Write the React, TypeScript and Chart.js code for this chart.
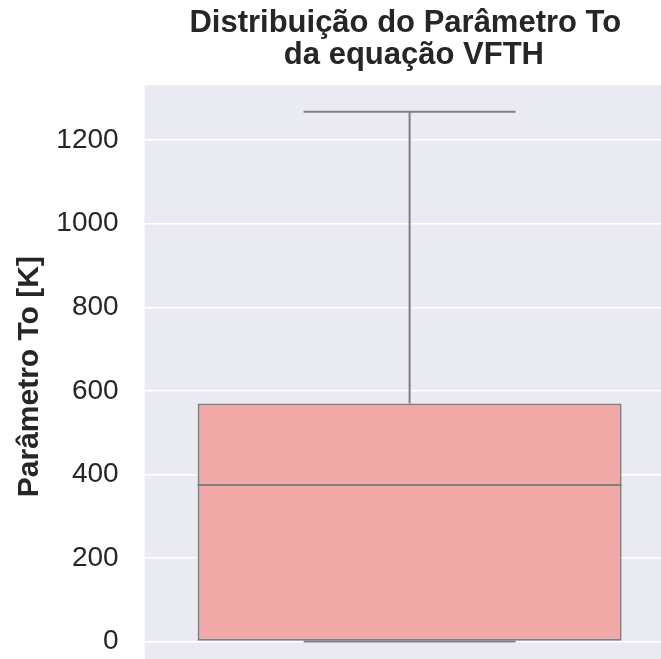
import React, { useEffect, useRef } from "react";
import { Chart, registerables } from "chart.js";

Chart.register(...registerables);

// Box summary for the To parameter of the VFTH equation
const categories = ["To"];
const minValues = [0];
const q1Values = [0];
const medianValues = [375];
const q3Values = [570];
const maxValues = [1268];
const yTickValues = [0, 200, 400, 600, 800, 1000, 1200];

const titleLines = ["Distribuição do Parâmetro To ", " da equação VFTH"];
const yTitle = "Parâmetro To [K]";

const FONT = "'Liberation Sans', Arial, Helvetica, sans-serif";
const TEXT = "#262626";
const PANEL = "#eaeaf2";
const LINE = "#7f7f7f";
const BOX_FILL = "#f1a9a8";

// Seaborn-like panel background behind the grid
const panelBackground = {
  id: "panelBackground",
  beforeDraw(chart: any) {
    const { ctx, chartArea } = chart;
    ctx.save();
    ctx.fillStyle = PANEL;
    ctx.fillRect(chartArea.left, chartArea.top, chartArea.right - chartArea.left, chartArea.bottom - chartArea.top);
    ctx.restore();
  },
};

// Median, whiskers and caps drawn on top of the box bars
const boxDetails = {
  id: "boxDetails",
  afterDatasetsDraw(chart: any) {
    const { ctx } = chart;
    const y = chart.scales.y;
    const meta = chart.getDatasetMeta(0);
    ctx.save();
    ctx.strokeStyle = LINE;
    ctx.lineWidth = 2;
    ctx.lineCap = "butt";
    meta.data.forEach((bar: any, i: number) => {
      const x = bar.x;
      const half = bar.width / 2;
      const capHalf = bar.width / 4;
      const yMin = y.getPixelForValue(minValues[i]);
      const yQ1 = y.getPixelForValue(q1Values[i]);
      const yMed = y.getPixelForValue(medianValues[i]);
      const yQ3 = y.getPixelForValue(q3Values[i]);
      const yMax = y.getPixelForValue(maxValues[i]);
      const seg = (x1: number, y1: number, x2: number, y2: number) => {
        ctx.beginPath();
        ctx.moveTo(x1, y1);
        ctx.lineTo(x2, y2);
        ctx.stroke();
      };
      seg(x, yQ3, x, yMax);
      seg(x - capHalf, yMax, x + capHalf, yMax);
      seg(x, yQ1, x, yMin);
      seg(x - capHalf, yMin, x + capHalf, yMin);
      seg(x - half, yMed, x + half, yMed);
    });
    ctx.restore();
  },
};

export default function App() {
  const canvasRef = useRef<HTMLCanvasElement | null>(null);

  useEffect(() => {
    const canvas = canvasRef.current;
    if (!canvas) return;
    const lo = Math.min(...minValues);
    const hi = Math.max(...maxValues);
    const pad = 0.05 * (hi - lo);

    const chart = new Chart(canvas, {
      type: "bar",
      data: {
        labels: categories,
        datasets: [
          {
            data: q1Values.map((q1, i) => [q1, q3Values[i]]) as any,
            backgroundColor: BOX_FILL,
            borderColor: LINE,
            borderWidth: 2,
            borderSkipped: false,
            barPercentage: 0.8,
            categoryPercentage: 1,
          },
        ],
      },
      options: {
        responsive: false,
        maintainAspectRatio: false,
        animation: false,
        devicePixelRatio: 1,
        layout: { padding: { left: 0, right: 1.4, top: 0, bottom: 1.9 } },
        plugins: {
          legend: { display: false },
          tooltip: { enabled: false },
          title: {
            display: true,
            fullSize: false,
            text: titleLines,
            color: TEXT,
            font: { family: FONT, size: 31, weight: "bold", lineHeight: 1.02 },
            padding: { top: 8, bottom: 14 },
          },
        },
        scales: {
          x: {
            display: false,
            grid: { display: false },
          },
          y: {
            min: lo - pad,
            max: hi + pad,
            border: { display: false },
            grid: { color: "#ffffff", lineWidth: 1.5, drawTicks: false },
            afterBuildTicks(scale: any) {
              scale.ticks = yTickValues.map((value) => ({ value }));
            },
            ticks: {
              padding: 26,
              color: TEXT,
              font: { family: FONT, size: 28 },
              callback: (value: any) => String(value),
            },
            title: {
              display: true,
              text: yTitle,
              color: TEXT,
              font: { family: FONT, size: 30, weight: "bold", lineHeight: 1.2 },
              padding: { top: 11.5, bottom: 0 },
            },
            afterFit(scale: any) {
              scale.width = 144.6;
              scale.paddingTop = 0;
              scale.paddingBottom = 0;
            },
          },
        },
      },
      plugins: [panelBackground, boxDetails],
    });
    return () => chart.destroy();
  }, []);

  return (
    <div
      style={{
        position: "fixed",
        left: 0,
        top: 0,
        width: 661,
        height: 659,
        overflow: "hidden",
        background: "#ffffff",
      }}
    >
      <canvas ref={canvasRef} width={676} height={670} style={{ display: "block" }} />
    </div>
  );
}
